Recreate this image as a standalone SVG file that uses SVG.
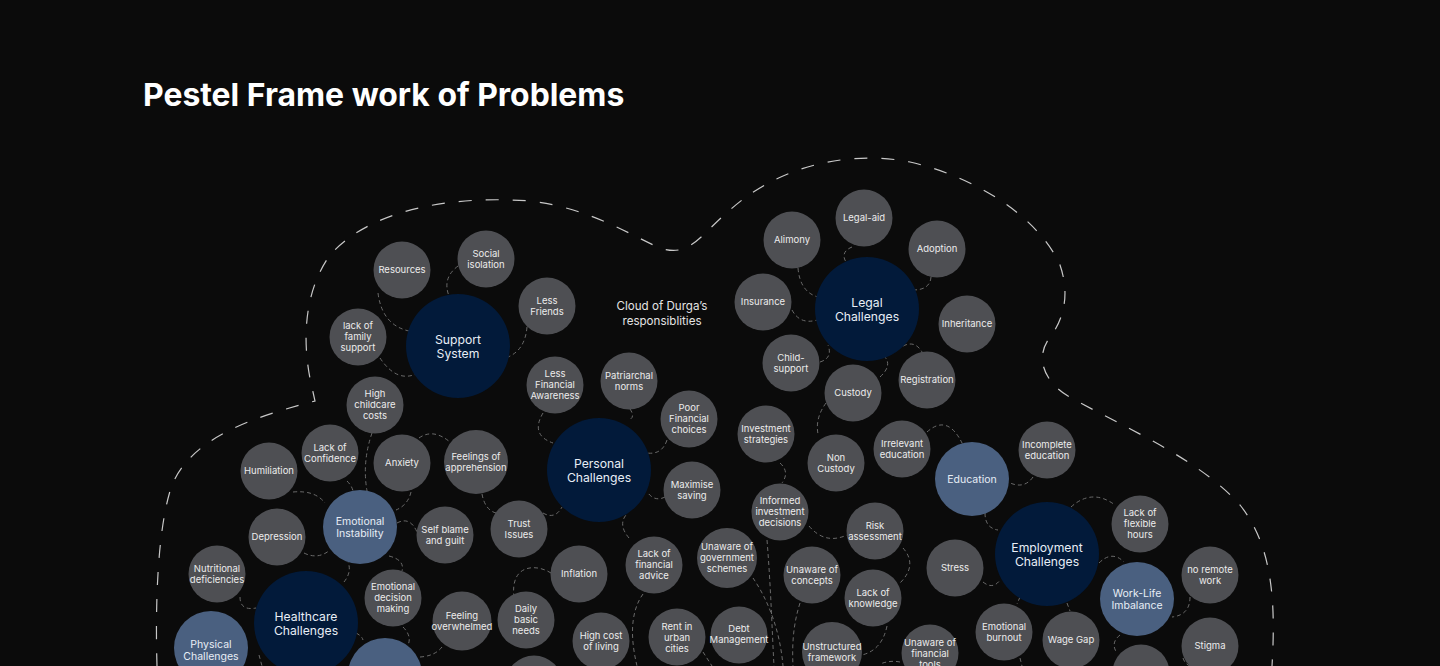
<svg xmlns="http://www.w3.org/2000/svg" width="1440" height="666" viewBox="0 0 1440 666">
<style>
.g{fill:#4e4f53}
.h{fill:#021a3a}
.m{fill:#4a6080}
text{font-family:Inter,"Noto Sans","Liberation Sans",sans-serif;text-anchor:middle}
.t{font-size:9.5px;fill:#ececec}
.th{font-size:12.2px;fill:#e8eef6}
.tm{font-size:10.5px;fill:#e8eef6}
.c{fill:none;stroke:#6a6a6a;stroke-width:1;stroke-dasharray:4 3}
.cloud{fill:none;stroke:#c8c8c8;stroke-width:1.2;stroke-dasharray:13 14}
</style>
<rect width="1440" height="666" fill="#0b0b0b"/>
<text x="143" y="106" style="font-size:31.9px;font-weight:700;fill:#ffffff;text-anchor:start">Pestel Frame work of Problems</text>
<path class="cloud" d="M157 666 C155 600 158 525 172 485 C192 438 250 418 315 401 L313 392 C300 340 305 290 330 255 C370 210 450 195 530 201 C590 208 630 235 660 248 C690 258 700 235 730 210 C780 165 850 150 910 162 C980 178 1040 220 1060 265 C1072 300 1060 325 1048 340 C1035 360 1045 385 1075 400 C1130 430 1200 460 1240 505 C1272 545 1276 600 1272 666"/>
<text x="662" y="310" style="font-size:11.6px;fill:#e4e4e4">Cloud of Durga’s</text>
<text x="662" y="324.5" style="font-size:11.6px;fill:#e4e4e4">responsiblities</text>
<g id="connectors">
<path class="c" d="M378 293 Q382 325 409 331"/>
<path class="c" d="M458 266 Q442 278 449 296"/>
<path class="c" d="M527 327 Q525 350 508 357"/>
<path class="c" d="M380 358 Q398 385 420 372"/>
<path class="c" d="M852 247 Q840 252 846 262"/>
<path class="c" d="M798 268 Q800 292 818 297"/>
<path class="c" d="M931 277 Q930 290 913 290"/>
<path class="c" d="M792 310 Q800 325 817 320"/>
<path class="c" d="M820 362 Q833 358 828 345"/>
<path class="c" d="M880 377 Q893 365 884 356"/>
<path class="c" d="M903 346 Q915 340 922 352"/>
<path class="c" d="M543 413 Q530 435 553 443"/>
<path class="c" d="M630 409 Q636 418 628 420"/>
<path class="c" d="M667 440 Q662 455 647 453"/>
<path class="c" d="M665 497 Q655 502 648 493"/>
<path class="c" d="M543 513 Q555 520 562 507"/>
<path class="c" d="M629 538 Q618 525 626 515"/>
<path class="c" d="M482 494 Q485 510 496 513"/>
<path class="c" d="M411 492 Q408 505 396 510"/>
<path class="c" d="M419 438 Q433 428 450 442"/>
<path class="c" d="M347 481 Q352 486 353 491"/>
<path class="c" d="M372 433 Q362 462 367 491"/>
<path class="c" d="M293 492 Q315 490 325 503"/>
<path class="c" d="M304 553 Q318 560 330 550"/>
<path class="c" d="M397 523 Q410 516 417 532"/>
<path class="c" d="M389 556 Q405 560 402 571"/>
<path class="c" d="M344 582 Q352 572 348 562"/>
<path class="c" d="M240 597 Q240 611 256 608"/>
<path class="c" d="M403 627 Q413 637 407 647"/>
<path class="c" d="M442 647 Q435 656 420 657"/>
<path class="c" d="M356 633 Q362 636 363 640"/>
<path class="c" d="M259 655 L262 666"/>
<path class="c" d="M551 573 C535 563 510 565 514 597"/>
<path class="c" d="M643 594 C628 615 632 645 637 666"/>
<path class="c" d="M753 578 C768 600 780 630 783 666"/>
<path class="c" d="M767 540 C771 590 772 630 774 666"/>
<path class="c" d="M800 603 C793 625 792 645 793 666"/>
<path class="c" d="M887 626 Q882 650 862 655"/>
<path class="c" d="M903 548 Q918 565 900 583"/>
<path class="c" d="M809 526 Q825 545 847 535"/>
<path class="c" d="M780 463 Q790 472 782 483"/>
<path class="c" d="M826 403 Q815 418 818 434"/>
<path class="c" d="M927 432 Q948 413 963 445"/>
<path class="c" d="M1033 477 Q1024 490 1008 482"/>
<path class="c" d="M985 513 Q985 528 998 530"/>
<path class="c" d="M983 582 Q993 590 1000 580"/>
<path class="c" d="M1071 507 Q1092 488 1115 505"/>
<path class="c" d="M1099 563 Q1112 550 1124 562"/>
<path class="c" d="M1190 597 Q1190 615 1172 617"/>
<path class="c" d="M1120 635 Q1110 643 1117 653"/>
<path class="c" d="M1020 597 L1017 604"/>
<path class="c" d="M1067 603 L1070 611"/>
<path class="c" d="M1183 658 Q1185 664 1190 666"/>
<path class="c" d="M703 652 L712 666"/>
<path class="c" d="M900 662 Q890 660 880 664"/>
<path class="c" d="M1020 658 L1022 666"/>
</g>
<g id="n-support"><circle class="h" cx="458" cy="346" r="52"/><text class="th" x="458" y="343.5">Support<tspan x="458" dy="14">System</tspan></text></g>
<g id="n-legal"><circle class="h" cx="867" cy="309" r="52"/><text class="th" x="867" y="306.5">Legal<tspan x="867" dy="14">Challenges</tspan></text></g>
<g id="n-personal"><circle class="h" cx="599" cy="470" r="52"/><text class="th" x="599" y="467.5">Personal<tspan x="599" dy="14">Challenges</tspan></text></g>
<g id="n-healthcare"><circle class="h" cx="306" cy="623" r="52"/><text class="th" x="306" y="620.5">Healthcare<tspan x="306" dy="14">Challenges</tspan></text></g>
<g id="n-employment"><circle class="h" cx="1047" cy="554" r="52"/><text class="th" x="1047" y="551.5">Employment<tspan x="1047" dy="14">Challenges</tspan></text></g>
<g id="n-emotional"><circle class="m" cx="360" cy="527" r="37"/><text class="tm" x="360" y="524.7">Emotional<tspan x="360" dy="12">Instability</tspan></text></g>
<g id="n-physical"><circle class="m" cx="211" cy="648" r="37"/><text class="tm" x="211" y="647.7">Physical<tspan x="211" dy="12">Challenges</tspan></text></g>
<g id="n-education"><circle class="m" cx="972" cy="479" r="37"/><text class="tm" x="972" y="482.7">Education</text></g>
<g id="n-worklife"><circle class="m" cx="1137" cy="599" r="37"/><text class="tm" x="1137" y="596.7">Work-Life<tspan x="1137" dy="12">Imbalance</tspan></text></g>
<g id="n-blue-partial"><circle class="m" cx="385" cy="675" r="37"/></g>
<g id="n-resources"><circle class="g" cx="402" cy="270" r="28.5"/><text class="t" x="402" y="273.3">Resources</text></g>
<g id="n-social"><circle class="g" cx="486" cy="259" r="28.5"/><text class="t" x="486" y="256.8">Social<tspan x="486" dy="11">isolation</tspan></text></g>
<g id="n-lessfriends"><circle class="g" cx="547" cy="306" r="28.5"/><text class="t" x="547" y="303.8">Less<tspan x="547" dy="11">Friends</tspan></text></g>
<g id="n-family"><circle class="g" cx="358" cy="337" r="28.5"/><text class="t" x="358" y="329.3">lack of<tspan x="358" dy="11">family</tspan><tspan x="358" dy="11">support</tspan></text></g>
<g id="n-childcare"><circle class="g" cx="375" cy="405" r="28.5"/><text class="t" x="375" y="397.3">High<tspan x="375" dy="11">childcare</tspan><tspan x="375" dy="11">costs</tspan></text></g>
<g id="n-lfa"><circle class="g" cx="555" cy="385" r="28.5"/><text class="t" x="555" y="377.3">Less<tspan x="555" dy="11">Financial</tspan><tspan x="555" dy="11">Awareness</tspan></text></g>
<g id="n-patriarchal"><circle class="g" cx="629" cy="381" r="28.5"/><text class="t" x="629" y="378.8">Patriarchal<tspan x="629" dy="11">norms</tspan></text></g>
<g id="n-poor"><circle class="g" cx="689" cy="419" r="28.5"/><text class="t" x="689" y="411.3">Poor<tspan x="689" dy="11">Financial</tspan><tspan x="689" dy="11">choices</tspan></text></g>
<g id="n-maximise"><circle class="g" cx="692" cy="490" r="28.5"/><text class="t" x="692" y="487.8">Maximise<tspan x="692" dy="11">saving</tspan></text></g>
<g id="n-alimony"><circle class="g" cx="792" cy="240" r="28.5"/><text class="t" x="792" y="243.3">Alimony</text></g>
<g id="n-legalaid"><circle class="g" cx="864" cy="218" r="28.5"/><text class="t" x="864" y="221.3">Legal-aid</text></g>
<g id="n-adoption"><circle class="g" cx="937" cy="249" r="28.5"/><text class="t" x="937" y="252.3">Adoption</text></g>
<g id="n-insurance"><circle class="g" cx="763" cy="302" r="28.5"/><text class="t" x="763" y="305.3">Insurance</text></g>
<g id="n-inheritance"><circle class="g" cx="967" cy="324" r="28.5"/><text class="t" x="967" y="327.3">Inheritance</text></g>
<g id="n-childsupport"><circle class="g" cx="791" cy="363" r="28.5"/><text class="t" x="791" y="360.8">Child-<tspan x="791" dy="11">support</tspan></text></g>
<g id="n-custody"><circle class="g" cx="853" cy="393" r="28.5"/><text class="t" x="853" y="396.3">Custody</text></g>
<g id="n-registration"><circle class="g" cx="927" cy="380" r="28.5"/><text class="t" x="927" y="383.3">Registration</text></g>
<g id="n-invstrat"><circle class="g" cx="766" cy="434" r="28.5"/><text class="t" x="766" y="431.8">Investment<tspan x="766" dy="11">strategies</tspan></text></g>
<g id="n-noncustody"><circle class="g" cx="836" cy="463" r="28.5"/><text class="t" x="836" y="460.8">Non<tspan x="836" dy="11">Custody</tspan></text></g>
<g id="n-irrelevant"><circle class="g" cx="902" cy="449" r="28.5"/><text class="t" x="902" y="446.8">Irrelevant<tspan x="902" dy="11">education</tspan></text></g>
<g id="n-incomplete"><circle class="g" cx="1047" cy="450" r="28.5"/><text class="t" x="1047" y="447.8">Incomplete<tspan x="1047" dy="11">education</tspan></text></g>
<g id="n-informed"><circle class="g" cx="780" cy="512" r="28.5"/><text class="t" x="780" y="504.3">Informed<tspan x="780" dy="11">investment</tspan><tspan x="780" dy="11">decisions</tspan></text></g>
<g id="n-risk"><circle class="g" cx="875" cy="531" r="28.5"/><text class="t" x="875" y="528.8">Risk<tspan x="875" dy="11">assessment</tspan></text></g>
<g id="n-confidence"><circle class="g" cx="330" cy="453" r="28.5"/><text class="t" x="330" y="450.8">Lack of<tspan x="330" dy="11">Confidence</tspan></text></g>
<g id="n-humiliation"><circle class="g" cx="269" cy="471" r="28.5"/><text class="t" x="269" y="474.3">Humiliation</text></g>
<g id="n-anxiety"><circle class="g" cx="402" cy="463" r="28.5"/><text class="t" x="402" y="466.3">Anxiety</text></g>
<g id="n-apprehension"><circle class="g" cx="476" cy="462" r="32"/><text class="t" x="476" y="459.8">Feelings of<tspan x="476" dy="11">apprehension</tspan></text></g>
<g id="n-depression"><circle class="g" cx="277" cy="537" r="28.5"/><text class="t" x="277" y="540.3">Depression</text></g>
<g id="n-selfblame"><circle class="g" cx="445" cy="535" r="28.5"/><text class="t" x="445" y="532.8">Self blame<tspan x="445" dy="11">and guilt</tspan></text></g>
<g id="n-trust"><circle class="g" cx="519" cy="529" r="28.5"/><text class="t" x="519" y="526.8">Trust<tspan x="519" dy="11">Issues</tspan></text></g>
<g id="n-nutritional"><circle class="g" cx="217" cy="574" r="28.5"/><text class="t" x="217" y="571.8">Nutritional<tspan x="217" dy="11">deficiencies</tspan></text></g>
<g id="n-emodecision"><circle class="g" cx="393" cy="598" r="28.5"/><text class="t" x="393" y="590.3">Emotional<tspan x="393" dy="11">decision</tspan><tspan x="393" dy="11">making</tspan></text></g>
<g id="n-overwhelmed"><circle class="g" cx="462" cy="621" r="29.5"/><text class="t" x="462" y="618.8">Feeling<tspan x="462" dy="11">overwhelmed</tspan></text></g>
<g id="n-dailyneeds"><circle class="g" cx="526" cy="620" r="28.5"/><text class="t" x="526" y="612.3">Daily<tspan x="526" dy="11">basic</tspan><tspan x="526" dy="11">needs</tspan></text></g>
<g id="n-inflation"><circle class="g" cx="579" cy="574" r="28.5"/><text class="t" x="579" y="577.3">Inflation</text></g>
<g id="n-highcost"><circle class="g" cx="601" cy="641" r="28.5"/><text class="t" x="601" y="639.3">High cost<tspan x="601" dy="11">of living</tspan></text></g>
<g id="n-finadvice"><circle class="g" cx="654" cy="565" r="28.5"/><text class="t" x="654" y="557.3">Lack of<tspan x="654" dy="11">financial</tspan><tspan x="654" dy="11">advice</tspan></text></g>
<g id="n-govschemes"><circle class="g" cx="727" cy="558" r="30"/><text class="t" x="727" y="550.3">Unaware of<tspan x="727" dy="11">government</tspan><tspan x="727" dy="11">schemes</tspan></text></g>
<g id="n-rent"><circle class="g" cx="677" cy="637" r="28.5"/><text class="t" x="677" y="630.3">Rent in<tspan x="677" dy="11">urban</tspan><tspan x="677" dy="11">cities</tspan></text></g>
<g id="n-debt"><circle class="g" cx="739" cy="635" r="28.5"/><text class="t" x="739" y="632.3">Debt<tspan x="739" dy="11">Management</tspan></text></g>
<g id="n-concepts"><circle class="g" cx="812" cy="575" r="28.5"/><text class="t" x="812" y="572.8">Unaware of<tspan x="812" dy="11">concepts</tspan></text></g>
<g id="n-knowledge"><circle class="g" cx="873" cy="598" r="28.5"/><text class="t" x="873" y="595.8">Lack of<tspan x="873" dy="11">knowledge</tspan></text></g>
<g id="n-unstructured"><circle class="g" cx="832" cy="652" r="30"/><text class="t" x="832" y="649.8">Unstructured<tspan x="832" dy="11">framework</tspan></text></g>
<g id="n-stress"><circle class="g" cx="955" cy="568" r="28.5"/><text class="t" x="955" y="571.3">Stress</text></g>
<g id="n-fintools"><circle class="g" cx="930" cy="653" r="28.5"/><text class="t" x="930" y="646.3">Unaware of<tspan x="930" dy="11">financial</tspan><tspan x="930" dy="11">tools</tspan></text></g>
<g id="n-burnout"><circle class="g" cx="1004" cy="632" r="28.5"/><text class="t" x="1004" y="629.8">Emotional<tspan x="1004" dy="11">burnout</tspan></text></g>
<g id="n-wagegap"><circle class="g" cx="1071" cy="640" r="28.5"/><text class="t" x="1071" y="643.3">Wage Gap</text></g>
<g id="n-flexible"><circle class="g" cx="1140" cy="524" r="28.5"/><text class="t" x="1140" y="516.3">Lack of<tspan x="1140" dy="11">flexible</tspan><tspan x="1140" dy="11">hours</tspan></text></g>
<g id="n-remote"><circle class="g" cx="1210" cy="575" r="28.5"/><text class="t" x="1210" y="572.8">no remote<tspan x="1210" dy="11">work</tspan></text></g>
<g id="n-stigma"><circle class="g" cx="1210" cy="646" r="28.5"/><text class="t" x="1210" y="649.3">Stigma</text></g>
<g id="n-grey-partial-1"><circle class="g" cx="534" cy="684" r="28.5"/></g>
<g id="n-grey-partial-2"><circle class="g" cx="1141" cy="673" r="28.5"/></g>
</svg>
